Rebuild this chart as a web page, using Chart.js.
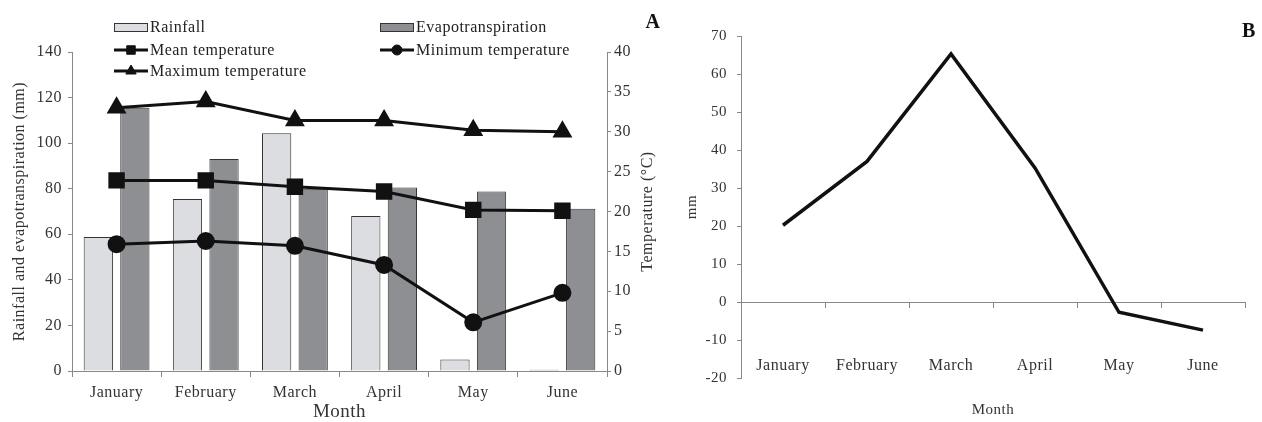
<!DOCTYPE html>
<html>
<head>
<meta charset="utf-8">
<script src="https://cdn.jsdelivr.net/npm/chart.js@4.4.1/dist/chart.umd.min.js"></script>
<style>
body { margin: 0; background: #fff; }
#chartA { position: absolute; left: 0; top: 0; }
#chartB { position: absolute; left: 672px; top: 0; }
</style>
</head>
<body>
<canvas id="chartA" width="672" height="422"></canvas>
<canvas id="chartB" width="590" height="422"></canvas>
<script>
const months = ['January', 'February', 'March', 'April', 'May', 'June'];

// panel A, mm (left axis)
const rainfall = [58.8, 75.5, 104.3, 68, 5, 0.5];
const evapotranspiration = [115.5, 93, 80, 80.5, 78.8, 71.2];
// panel A, °C (right axis)
const meanTemp = [23.9, 23.9, 23.1, 22.5, 20.2, 20.1];
const minTemp = [15.9, 16.3, 15.7, 13.3, 6.1, 9.8];
const maxTemp = [33.0, 33.8, 31.4, 31.4, 30.2, 30.0];

// panel B, mm
const balance = [20.2, 37, 65.3, 35.3, -2.7, -7.4];

const rainColor = '#dcdde0';
const evapColor = '#8e8f93';
const lineColor = '#111';
const axisColor = '#888';

Chart.defaults.font.family = '"Liberation Serif", "Times New Roman", serif';
Chart.defaults.color = '#333';

// the source figure has slightly spaced out letters
const spacing = {
    id: 'spacing',
    beforeDraw(chart) { chart.ctx.letterSpacing = '0.5px'; }
};

// excel style legend in two columns + right title + panel letter
const extrasA = {
    id: 'extrasA',
    afterDraw(chart) {
        const ctx = chart.ctx;
        const items = [
            { label: 'Rainfall', bar: rainColor, x: 114, y: 27 },
            { label: 'Evapotranspiration', bar: evapColor, x: 380, y: 27 },
            { label: 'Mean temperature', point: 'rect', r: 6, x: 114, y: 50 },
            { label: 'Minimum temperature', point: 'circle', r: 5, x: 380, y: 50 },
            { label: 'Maximum temperature', point: 'triangle', r: 6, x: 114, y: 71 }
        ];
        ctx.save();
        ctx.font = '16px "Liberation Serif", serif';
        ctx.textBaseline = 'middle';
        items.forEach(it => {
            if (it.bar) {
                ctx.fillStyle = it.bar;
                ctx.strokeStyle = '#333';
                ctx.lineWidth = 1;
                ctx.fillRect(it.x, it.y - 4, 33, 8);
                ctx.strokeRect(it.x + 0.5, it.y - 3.5, 33, 8);
            } else {
                ctx.strokeStyle = lineColor;
                ctx.lineWidth = 3;
                ctx.beginPath();
                ctx.moveTo(it.x, it.y);
                ctx.lineTo(it.x + 34, it.y);
                ctx.stroke();
                ctx.fillStyle = lineColor;
                ctx.lineWidth = 1;
                Chart.helpers.drawPoint(ctx, { pointStyle: it.point, radius: it.r, borderWidth: 1, rotation: 0 }, it.x + 17, it.y);
            }
            ctx.fillStyle = '#222';
            ctx.textAlign = 'left';
            ctx.fillText(it.label, it.x + 36, it.y + 1);
        });

        const area = chart.chartArea;
        ctx.save();
        ctx.translate(648, (area.top + area.bottom) / 2);
        ctx.rotate(-Math.PI / 2);
        ctx.textAlign = 'center';
        ctx.fillStyle = '#333';
        ctx.fillText('Temperature (°C)', 0, 0);
        ctx.restore();

        ctx.font = 'bold 20px "Liberation Serif", serif';
        ctx.fillStyle = '#111';
        ctx.textAlign = 'center';
        ctx.fillText('A', 653, 23);
        ctx.restore();
    }
};

const extrasB = {
    id: 'extrasB',
    afterDraw(chart) {
        const ctx = chart.ctx;
        const area = chart.chartArea;
        ctx.save();
        ctx.textAlign = 'center';
        ctx.textBaseline = 'middle';
        ctx.font = '15px "Liberation Serif", serif';
        ctx.fillStyle = '#333';
        ctx.fillText('Month', (area.left + area.right) / 2, 410);
        ctx.font = 'bold 20px "Liberation Serif", serif';
        ctx.fillStyle = '#111';
        ctx.fillText('B', 577, 32);
        ctx.restore();
    }
};

new Chart(document.getElementById('chartA').getContext('2d'), {
    type: 'bar',
    data: {
        labels: months,
        datasets: [
            { type: 'line', label: 'Mean temperature', data: meanTemp, yAxisID: 'y2', order: 0,
              borderColor: lineColor, borderWidth: 3, pointStyle: 'rect', pointRadius: 9.5,
              pointBackgroundColor: lineColor, pointBorderColor: lineColor },
            { type: 'line', label: 'Minimum temperature', data: minTemp, yAxisID: 'y2', order: 0,
              borderColor: lineColor, borderWidth: 3, pointStyle: 'circle', pointRadius: 7.5,
              pointBackgroundColor: lineColor, pointBorderColor: lineColor },
            { type: 'line', label: 'Maximum temperature', data: maxTemp, yAxisID: 'y2', order: 0,
              borderColor: lineColor, borderWidth: 3, pointStyle: 'triangle', pointRadius: 8.5,
              pointBackgroundColor: lineColor, pointBorderColor: lineColor },
            { label: 'Rainfall', data: rainfall, yAxisID: 'y', order: 1,
              backgroundColor: rainColor, borderColor: '#333', borderWidth: 1,
              categoryPercentage: 0.82, barPercentage: 0.8 },
            { label: 'Evapotranspiration', data: evapotranspiration, yAxisID: 'y', order: 1,
              backgroundColor: evapColor, borderColor: '#333', borderWidth: 1,
              categoryPercentage: 0.82, barPercentage: 0.8 }
        ]
    },
    options: {
        responsive: false,
        animation: false,
        layout: { padding: { left: 0, right: 25, top: 52, bottom: 0 } },
        plugins: { legend: { display: false }, tooltip: { enabled: false } },
        scales: {
            x: {
                offset: true,
                grid: { offset: true, drawOnChartArea: false, color: axisColor, tickLength: 6 },
                border: { color: axisColor },
                ticks: { font: { size: 16 }, padding: 6 },
                title: { display: true, text: 'Month', font: { size: 19, lineHeight: 1 }, padding: { top: 0, bottom: 0 } },
                afterFit: s => { s.height = 51; }
            },
            y: {
                position: 'left',
                min: 0, max: 140,
                ticks: { stepSize: 20, font: { size: 16 }, padding: 6 },
                grid: { drawOnChartArea: false, color: axisColor, tickLength: 4 },
                border: { color: axisColor },
                title: { display: true, text: 'Rainfall and evapotranspiration (mm)', font: { size: 16 }, padding: { top: 10, bottom: 0 } },
                afterFit: s => { s.width = 72; }
            },
            y2: {
                position: 'right',
                min: 0, max: 40,
                ticks: { stepSize: 5, font: { size: 16 }, padding: 3 },
                grid: { drawOnChartArea: false, color: axisColor, tickLength: 4 },
                border: { color: axisColor },
                afterFit: s => { s.width = 40; }
            }
        }
    },
    plugins: [spacing, extrasA]
});

new Chart(document.getElementById('chartB').getContext('2d'), {
    type: 'line',
    data: {
        labels: months,
        datasets: [
            { label: 'mm', data: balance, borderColor: lineColor, borderWidth: 3.5, pointRadius: 0, xAxisID: 'x' }
        ]
    },
    options: {
        responsive: false,
        animation: false,
        layout: { padding: { left: 0, right: 17, top: 36, bottom: 44 } },
        plugins: { legend: { display: false }, tooltip: { enabled: false } },
        scales: {
            // month labels sit low inside the plot, as in excel "low" label position
            x: {
                position: { y: -20 },
                offset: true,
                grid: { display: false, drawTicks: false },
                border: { display: false },
                ticks: { font: { size: 16 }, padding: -22 }
            },
            x2: {
                type: 'category',
                position: { y: 0 },
                offset: true,
                grid: { offset: true, drawOnChartArea: false, color: axisColor, tickLength: 5 },
                border: { color: axisColor },
                ticks: { display: false }
            },
            y: {
                min: -20, max: 70,
                ticks: { stepSize: 10, font: { size: 15 }, padding: 10 },
                grid: { drawOnChartArea: false, color: axisColor, tickLength: 4 },
                border: { color: axisColor },
                title: { display: true, text: 'mm', font: { size: 15 }, padding: { top: 11, bottom: 0 } },
                afterFit: s => { s.width = 69; }
            }
        }
    },
    plugins: [spacing, extrasB]
});
</script>
</body>
</html>
